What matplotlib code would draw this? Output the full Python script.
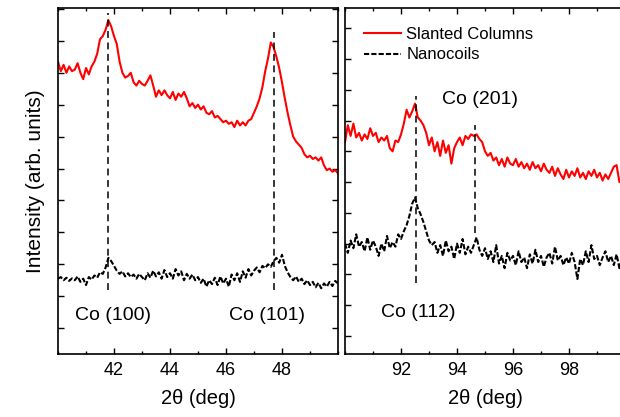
import numpy as np
import matplotlib.pyplot as plt
from matplotlib.ticker import MultipleLocator

plt.rcParams['font.family'] = ['Liberation Sans', 'DejaVu Sans']

# 2theta grids (0.1 deg steps) for the two scan windows
two_theta_low = np.round(np.arange(40.0, 50.01, 0.1), 2)
two_theta_high = np.round(np.arange(90.0, 100.01, 0.1), 2)

# intensities (arbitrary units, stacked)
slanted_low = [
    8.35, 8.05, 8.25, 8.0, 8.2, 8.05, 8.1, 8.3, 8.0, 7.8,
    8.15, 7.95, 8.2, 8.35, 8.6, 9.05, 9.15, 9.35, 9.65, 9.45,
    9.15, 8.9, 8.35, 8.0, 7.85, 7.9, 8.0, 7.7, 7.6, 7.75,
    7.65, 7.6, 7.75, 7.92, 7.6, 7.25, 7.45, 7.3, 7.45, 7.3,
    7.2, 7.4, 7.15, 7.35, 7.25, 7.4, 7.2, 6.95, 7.05, 6.9,
    7.0, 6.85, 6.95, 6.75, 6.7, 6.8, 6.6, 6.65, 6.55, 6.45,
    6.5, 6.4, 6.45, 6.3, 6.5, 6.35, 6.45, 6.35, 6.5, 6.55,
    6.75, 6.95, 7.2, 7.55, 8.05, 8.45, 8.95, 8.8, 8.5, 8.15,
    7.7, 7.2, 6.75, 6.35, 6.0, 5.85, 5.75, 5.65, 5.45, 5.35,
    5.4, 5.3, 5.35, 5.25, 5.35, 5.1, 4.95, 5.0, 4.9, 4.95, 4.85]
nanocoils_low = [
    1.55, 1.6, 1.5, 1.58, 1.48, 1.56, 1.5, 1.62, 1.45, 1.55,
    1.35, 1.6, 1.52, 1.65, 1.58, 1.75, 1.7, 1.9, 2.2, 2.1,
    1.95, 1.8, 1.7, 1.78, 1.62, 1.72, 1.6, 1.68, 1.55, 1.7,
    1.6, 1.5, 1.72, 1.58, 1.8, 1.62, 1.75, 1.55, 1.82, 1.6,
    1.72, 1.55, 1.85, 1.65, 1.78, 1.5, 1.7, 1.55, 1.68, 1.5,
    1.6, 1.42, 1.55, 1.3, 1.5, 1.38, 1.58, 1.35, 1.62, 1.4,
    1.55, 1.3, 1.68, 1.5, 1.72, 1.45, 1.78, 1.58, 1.85, 1.65,
    1.8, 1.9, 1.75, 1.95, 1.88, 2.0, 1.92, 2.1, 2.2, 2.05,
    2.3, 1.95, 1.75, 1.6, 1.5, 1.62, 1.45, 1.55, 1.38, 1.5,
    1.35, 1.45, 1.28, 1.42, 1.25, 1.4, 1.3, 1.45, 1.32, 1.48, 1.4]
slanted_high = [
    6.3, 6.85, 6.5, 6.9, 6.45, 6.6, 6.35, 6.55, 6.4, 6.75,
    6.5, 6.6, 6.3, 6.45, 6.35, 6.5, 6.1, 6.0, 6.35, 6.3,
    6.55, 6.9, 7.35, 7.1, 7.3, 7.55, 7.1, 7.0, 6.85, 6.6,
    6.2, 6.45, 6.0, 6.3, 5.85, 6.35, 5.95, 6.2, 5.6, 6.1,
    6.3, 6.45, 6.2, 6.5, 6.4, 6.55, 6.5, 6.55, 6.4, 6.3,
    6.0, 5.85, 5.95, 5.7, 5.8, 5.55, 5.75, 5.5, 5.8, 5.6,
    5.55, 5.75, 5.5, 5.65, 5.45, 5.6, 5.4, 5.65, 5.45, 5.55,
    5.35, 5.6, 5.4, 5.3, 5.5, 5.2, 5.45, 5.25, 5.1, 5.4,
    5.15, 5.35, 5.2, 5.45, 5.15, 5.3, 5.1, 5.35, 5.2, 5.4,
    5.15, 5.3, 5.05, 5.25, 5.1, 5.3, 5.5, 5.55, 5.0, 5.2, 5.1]
nanocoils_high = [
    3.0, 2.7, 3.1, 2.85, 3.3, 2.9, 3.05, 2.75, 3.2, 2.8,
    3.1, 2.9, 2.6, 3.0, 2.75, 3.25, 2.85, 3.05, 2.9, 3.3,
    3.15, 3.4, 3.6, 3.9, 4.3, 4.5, 4.15, 3.95, 3.7, 3.4,
    3.1, 2.95, 3.05, 2.7, 2.95, 2.6, 3.1, 2.75, 2.9, 2.5,
    3.0, 2.7, 3.15, 2.65, 2.9, 2.7, 2.95, 3.2, 2.8, 2.6,
    2.85, 2.5, 2.75, 2.4, 2.95, 2.35, 2.6, 2.2, 2.7, 2.45,
    2.6, 2.3, 2.75, 2.4, 2.55, 2.2, 2.65, 2.35, 2.8, 2.4,
    2.6, 2.25, 2.55, 2.7, 2.35, 2.9, 2.45, 2.6, 2.3, 2.55,
    2.35, 2.7, 2.4, 1.85, 2.5, 2.3, 2.75, 2.4, 2.95, 2.5,
    2.6, 2.3, 2.55, 2.75, 2.4, 2.6, 2.3, 2.65, 2.2, 2.5, 2.35]

# reflections: position, top/bottom of marker line, label text and spot
peaks_low = [41.8, 47.72]
peak_tops_low = [9.87, 9.28]
peak_bots_low = [1.19, 1.19]
labels_low = ['Co (100)', 'Co (101)']
label_pos_low = [(41.95, 0.4), (47.45, 0.4)]

peaks_high = [92.52, 94.64]
peak_tops_high = [7.8, 6.86]
peak_bots_high = [1.72, 3.35]
labels_high = ['Co (112)', 'Co (201)']
label_pos_high = [(92.6, 0.75), (94.82, 7.67)]

fig = plt.figure(figsize=(6.2, 4.17), dpi=100)
ax1 = fig.add_axes([58 / 620, 63 / 417, 280 / 620, 346 / 417])
ax2 = fig.add_axes([345 / 620, 63 / 417, 280 / 620, 346 / 417])

ax1.plot(two_theta_low, slanted_low, color='red', lw=1.5)
ax1.plot(two_theta_low, nanocoils_low, color='black', lw=1.5, ls='--', dashes=(2.5, 1))
ax2.plot(two_theta_high, slanted_high, color='red', lw=1.5, label='Slanted Columns')
ax2.plot(two_theta_high, nanocoils_high, color='black', lw=1.5, ls='--', dashes=(2.5, 1),
         label='Nanocoils')

for ax, pk, tops, bots, labs, pos in [
        (ax1, peaks_low, peak_tops_low, peak_bots_low, labels_low, label_pos_low),
        (ax2, peaks_high, peak_tops_high, peak_bots_high, labels_high, label_pos_high)]:
    ax.vlines(pk, bots, tops, colors='black', lw=1.1, linestyles=(0, (4.5, 3)))
    for t, (xp, yp) in zip(labs, pos):
        ax.text(xp, yp, t, ha='center', va='center', fontsize=14)

ax1.set_xlim(40, 50)
ax1.set_ylim(-0.81, 10.03)
ax2.set_xlim(90, 100)
ax2.set_ylim(-0.59, 10.66)

for ax, majors in [(ax1, [42, 44, 46, 48]), (ax2, [92, 94, 96, 98])]:
    ax.set_xticks(majors)
    ax.xaxis.set_minor_locator(MultipleLocator(1))
    ax.yaxis.set_major_locator(MultipleLocator(1))
    ax.tick_params(axis='both', which='both', direction='in', top=True, right=True,
                   labelleft=False, labelsize=13, width=1)
    ax.tick_params(axis='x', which='major', length=4, pad=6)
    ax.tick_params(axis='x', which='minor', length=2.5)
    ax.tick_params(axis='y', which='major', length=4)
    ax.set_xlabel('2θ (deg)', fontsize=14.5, labelpad=7)
    for s in ax.spines.values():
        s.set_linewidth(1.2)

# right frame of the high-angle panel falls outside the picture
ax2.spines['right'].set_visible(False)
ax2.tick_params(axis='y', which='both', right=False)

ax1.set_ylabel('Intensity (arb. units)', fontsize=15, labelpad=9)

ax2.legend(loc='upper left', frameon=False, fontsize=12, handlelength=2.2,
           handletextpad=0.35, labelspacing=0.35, borderaxespad=0.4,
           bbox_to_anchor=(0.02, 0.985))

fig.savefig('out.png', dpi=100)
